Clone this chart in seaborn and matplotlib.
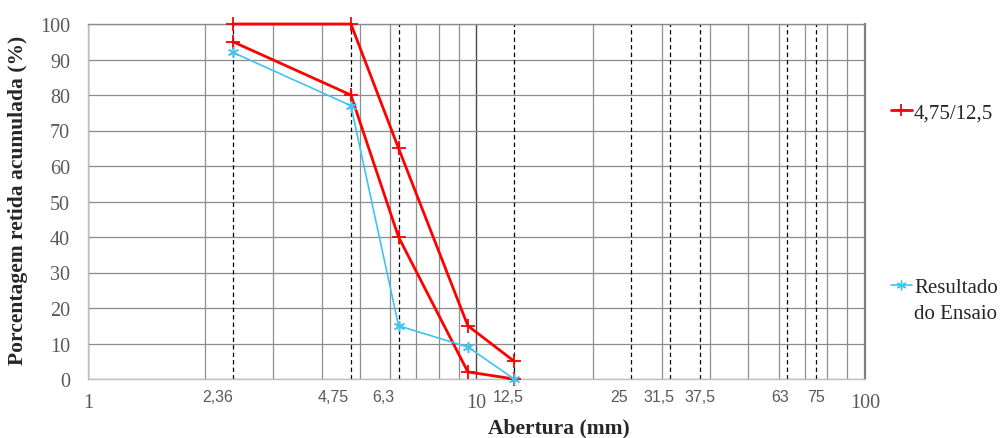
import matplotlib
matplotlib.use("Agg")
import matplotlib.pyplot as plt
from matplotlib.ticker import FixedLocator, NullFormatter, FixedFormatter
from matplotlib.lines import Line2D
import seaborn as sns
import pandas as pd

# Sieve openings (mm) and accumulated retained percentages
aberturas = [2.36, 4.75, 6.3, 9.5, 12.5]
limite_superior = [100, 100, 65, 15, 5]
limite_inferior = [95, 80, 40, 2, 0]
resultado_ensaio = [92, 77, 15, 9, 0]

# Standard sieves marked with dashed guides and their labels
peneiras = [2.36, 4.75, 6.3, 12.5, 25, 31.5, 37.5, 63, 75]
rotulos_peneiras = ["2,36", "4,75", "6,3", "12,5", "25", "31,5", "37,5", "63", "75"]
# horizontal nudge of each sieve label (points)
desloc_rotulos = [-11, -13, -11, -4, -9, -8, 0, -5, 0]

eixo_x_ticks = [1, 10, 100]
eixo_x_rotulos = ["1", "10", "100"]
eixo_y_ticks = list(range(0, 101, 10))

sns.set_style("white")
serif = ["Liberation Serif", "DejaVu Serif"]
sans = ["Liberation Sans", "DejaVu Sans"]
plt.rcParams["font.family"] = serif

fig = plt.figure(figsize=(10.02, 4.39), dpi=100)
ax = fig.add_axes([88 / 1002, 1 - 380 / 439, (865 - 88) / 1002, (380 - 25) / 439])

RED = "#ff0000"
BLUE = "#3fc3f0"

sup = pd.DataFrame({"abertura": aberturas, "pct": limite_superior})
inf = pd.DataFrame({"abertura": aberturas, "pct": limite_inferior})
ens = pd.DataFrame({"abertura": aberturas, "pct": resultado_ensaio})

for df in (sup, inf):
    sns.lineplot(data=df, x="abertura", y="pct", ax=ax, color=RED, lw=2.0,
                 marker="+", markersize=10, markeredgewidth=1.3,
                 markeredgecolor=RED, sort=False, estimator=None, zorder=5,
                 clip_on=False)
sns.lineplot(data=ens, x="abertura", y="pct", ax=ax, color=BLUE, lw=1.2,
             marker=(6, 2, 0), markersize=8, markeredgewidth=1.1,
             markeredgecolor=BLUE, sort=False, estimator=None, zorder=6,
             clip_on=False)

ax.set_xscale("log")
ax.set_xlim(1, 100)
ax.set_ylim(0, 100)

# grid: minor log lines, darker decade line, horizontal every 10 %
ax.xaxis.set_major_locator(FixedLocator(eixo_x_ticks))
ax.xaxis.set_major_formatter(FixedFormatter(eixo_x_rotulos))
minors = [m * d for d in (1, 10) for m in range(2, 10)]
ax.xaxis.set_minor_locator(FixedLocator(minors))
ax.xaxis.set_minor_formatter(NullFormatter())
ax.set_yticks(eixo_y_ticks)

ax.grid(False)
ax.xaxis.grid(True, which="minor", color="#8f8f8f", lw=0.9)
ax.xaxis.grid(True, which="major", color="#4a4a4a", lw=1.0)
ax.yaxis.grid(True, which="major", color="#8c8c8c", lw=0.9)
ax.set_axisbelow(True)

for v in peneiras:
    ax.axvline(v, color="black", lw=0.9, ls=(0, (3.5, 2.5)), zorder=2)

for s in ("left", "bottom", "top"):
    ax.spines[s].set_color("#bfbfbf")
    ax.spines[s].set_linewidth(1.0)
ax.spines["top"].set_color("#8c8c8c")
ax.spines["right"].set_color("#7f7f7f")
ax.spines["right"].set_linewidth(1.6)

ax.tick_params(axis="both", which="both", length=0)
ax.tick_params(axis="x", which="major", pad=10, labelsize=14.5, labelcolor="#595959")
ax.tick_params(axis="y", which="major", pad=13, labelsize=14.5, labelcolor="#595959")
for t in ax.get_xticklabels() + ax.get_yticklabels():
    t.set_family(serif)

for v, lbl, dx in zip(peneiras, rotulos_peneiras, desloc_rotulos):
    ax.annotate(lbl, xy=(v, 0), xycoords=("data", "axes fraction"),
                xytext=(dx, -12.5), textcoords="offset points",
                ha="center", va="center", fontsize=11.5, color="#595959",
                family=sans)

ax.set_xlabel("")
ax.set_ylabel("")
fig.text(559 / 1002, 1 - 428 / 439, "Abertura (mm)", ha="center", va="center",
         fontsize=15.5, fontweight="bold", family=serif)
fig.text(18 / 1002, 1 - 200 / 439, "Porcentagem retida acumulada (%)",
         ha="center", va="center", rotation=90, fontsize=15.5,
         fontweight="bold", family=serif)

handles = [
    Line2D([], [], color=RED, lw=2.0, marker="+", markersize=9,
           markeredgewidth=1.3),
    Line2D([], [], color=BLUE, lw=1.2, marker=(6, 2, 0), markersize=7,
           markeredgewidth=1.0),
]
leg = fig.legend(handles, ["4,75/12,5", "Resultado"],
                 loc="upper left", bbox_to_anchor=(891 / 1002, 1 - 104 / 439),
                 frameon=False, fontsize=15, handlelength=1.0,
                 handletextpad=0.1, labelspacing=7.45, borderaxespad=0,
                 borderpad=0)
for t in leg.get_texts():
    t.set_family(serif)

# second line of the test-result entry, set under its first line
fig.canvas.draw()
bb = leg.get_texts()[1].get_window_extent().transformed(fig.transFigure.inverted())
fig.text(bb.x0, bb.y0 - 0.014, "do Ensaio", ha="left", va="top",
         fontsize=15, family=serif)

fig.savefig("out.png", dpi=100)
